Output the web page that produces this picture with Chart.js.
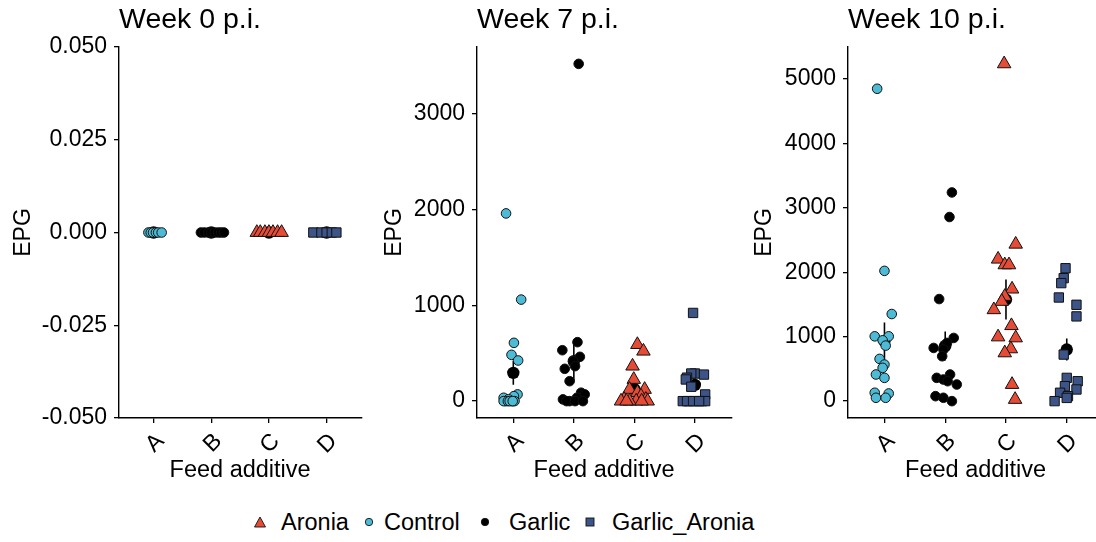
<!DOCTYPE html>
<html>
<head>
<meta charset="utf-8">
<script src="https://cdn.jsdelivr.net/npm/chart.js@4.4.0/dist/chart.umd.min.js"></script>
<style>
  html, body { margin: 0; padding: 0; background: #fff; }
  body { width: 1096px; height: 542px; overflow: hidden; position: relative;
         font-family: 'Liberation Sans', Arial, sans-serif; }
  canvas { position: absolute; top: 0; }
  #legend { position: absolute; left: 0; top: 506px; width: 1096px; height: 32px;
            font-size: 23.5px; color: #000; white-space: nowrap; }
  #legend .key { position: absolute; top: 50%; transform: translate(-50%, -50%); line-height: 0; }
  #legend .lab { position: absolute; top: 50%; transform: translateY(-50%); }
</style>
</head>
<body>
<canvas id="week0" width="370" height="500" style="left:0px"></canvas>
<canvas id="week7" width="370" height="500" style="left:370px"></canvas>
<canvas id="week10" width="372" height="500" style="left:740px"></canvas>
<div id="legend"></div>

<script>
// Categories on the x axis and the group plotted in each
const categories = ['A', 'B', 'C', 'D'];
const groupNames = ['Control', 'Garlic', 'Aronia', 'Garlic_Aronia'];

// Week 0 p.i. - every sample was 0
const week0Control = [0, 0, 0, 0, 0, 0];
const week0ControlJitter = [-0.09, -0.05, -0.01, 0.04, 0.08, 0.14];
const week0Garlic = [0, 0, 0, 0, 0, 0, 0, 0];
const week0GarlicJitter = [-0.18, -0.12, -0.05, 0, 0.06, 0.12, 0.17, 0.22];
const week0Aronia = [0, 0, 0, 0, 0, 0, 0];
const week0AroniaJitter = [-0.21, -0.15, -0.07, 0, 0.07, 0.15, 0.22];
const week0GarlicAronia = [0, 0, 0, 0, 0];
const week0GarlicAroniaJitter = [-0.23, -0.09, 0, 0.09, 0.17];
const week0Mean = [0, 0, 0, 0];
const week0SE = [0, 0, 0, 0];

// Week 7 p.i.
const week7Control = [1958, 1059, 608, 483, 424, 70, 52, 35, 20, 0, 0, 0, 0, 0, 0, 0];
const week7ControlJitter = [-0.12, 0.13, 0.01, -0.03, 0.08, 0.07, 0.01, -0.16, -0.08, -0.02, -0.13, -0.16, -0.09, 0.02, -0.06, -0.01];
const week7Garlic = [3518, 615, 531, 462, 417, 365, 337, 208, 88, 70, 35, 18, 0, 0, 0, 0];
const week7GarlicJitter = [0.08, 0.06, -0.19, 0.10, -0.01, 0.02, -0.15, -0.07, 0.12, 0.18, 0.05, -0.18, -0.07, -0.12, 0.02, 0.15];
const week7Aronia = [590, 521, 365, 226, 122, 122, 88, 52, 18, 18, 0, 0, 0, 0, 0, 0];
const week7AroniaJitter = [0.05, 0.15, -0.03, -0.01, -0.08, 0.17, 0.05, 0.11, -0.17, 0.19, 0.03, 0.22, -0.22, -0.08, 0.12, -0.13];
const week7GarlicAronia = [920, 288, 288, 277, 245, 226, 150, 70, 0, 0, 0, 0, 0, 0, 0, 0];
const week7GarlicAroniaJitter = [-0.03, 0.00, -0.06, 0.15, -0.13, -0.15, -0.06, 0.17, -0.2, -0.1, 0.02, 0.12, 0.17, -0.13, -0.03, 0.07];
const week7Mean = [295, 416, 125, 170];
const week7SE = [125, 214, 48, 60];

// Week 10 p.i.
const week10Control = [4844, 2020, 1351, 1005, 1005, 943, 861, 655, 567, 516, 413, 361, 130, 119, 52, 52];
const week10ControlJitter = [-0.12, 0.00, 0.12, -0.16, 0.07, -0.03, 0.02, -0.08, 0.00, -0.03, -0.14, 0.00, -0.16, 0.07, -0.14, 0.02];
const week10Garlic = [3236, 2855, 1583, 980, 903, 825, 800, 696, 413, 361, 335, 309, 258, 77, 52, 0];
const week10GarlicJitter = [0.11, 0.07, -0.10, 0.14, 0.03, -0.19, -0.03, -0.05, 0.08, -0.14, -0.03, 0.04, 0.19, -0.16, -0.03, 0.11];
const week10Aronia = [5230, 2433, 2201, 2113, 2113, 1737, 1623, 1546, 1417, 1170, 995, 980, 810, 748, 258, 26];
const week10AroniaJitter = [-0.03, 0.16, -0.13, -0.02, 0.05, 0.10, -0.02, -0.07, -0.20, 0.09, -0.13, 0.16, 0.08, -0.02, 0.10, 0.15];
const week10GarlicAronia = [2061, 1907, 1830, 1607, 1494, 1314, 722, 361, 309, 232, 181, 130, 77, 50, 0];
const week10GarlicAroniaJitter = [-0.02, -0.05, -0.09, -0.13, 0.16, 0.16, -0.05, 0.00, 0.18, -0.03, 0.16, -0.11, 0.02, 0.00, -0.20];
const week10Mean = [931, 855, 1575, 800];
const week10SE = [290, 225, 310, 170];

// Axis ticks
const week0Ticks = [-0.05, -0.025, 0, 0.025, 0.05];
const week7Ticks = [0, 1000, 2000, 3000];
const week10Ticks = [0, 1000, 2000, 3000, 4000, 5000];

// Marker look for each group
const groupStyles = {
  Control:       { color: '#4DBBD5', shape: 'circle',   radius: 4.8 },
  Garlic:        { color: '#000000', shape: 'circle',   radius: 4.8 },
  Aronia:        { color: '#E64B35', shape: 'triangle', radius: 7.8 },
  Garlic_Aronia: { color: '#3C5488', shape: 'rect',     radius: 6.6 }
};

Chart.defaults.font.family = "'Liberation Sans', Arial, sans-serif";
Chart.defaults.color = '#000';

/**
 * Build one facet panel
 */
function buildPanel(canvasId, title, groups, means, ses, yRange, yTicks, fmt, layoutOpts) {
  const datasets = [];

  groups.forEach((g, i) => {
    const name = groupNames[i];
    const st = groupStyles[name];
    datasets.push({
      label: name,
      data: g.values.map((v, k) => ({ x: i + 1 + g.jitter[k], y: v })),
      pointStyle: st.shape,
      pointRadius: st.radius,
      backgroundColor: st.color,
      borderColor: '#111',
      borderWidth: 1,
      order: 0
    });
  });

  // mean +/- SE
  datasets.push({
    label: 'mean',
    data: means.map((m, i) => ({ x: i + 1, y: m })),
    pointStyle: 'circle',
    pointRadius: 6.2,
    backgroundColor: '#000',
    borderWidth: 0,
    order: 1
  });
  datasets.push({
    label: 'se',
    showLine: true,
    spanGaps: false,
    data: means.flatMap((m, i) => [
      { x: i + 1, y: m - ses[i] },
      { x: i + 1, y: m + ses[i] },
      { x: i + 1, y: null }
    ]),
    borderColor: '#000',
    borderWidth: 1.6,
    pointRadius: 0,
    order: 2
  });

  const axisLine = { display: true, color: '#000', width: 1.4 };
  const tickMarks = { drawOnChartArea: false, drawTicks: true, tickLength: 5, color: '#000', lineWidth: 1.3 };

  return new Chart(document.getElementById(canvasId), {
    type: 'scatter',
    data: { datasets },
    options: {
      responsive: false,
      animation: false,
      layout: { padding: { left: 0, right: layoutOpts.padRight, top: 0, bottom: 0 } },
      plugins: {
        legend: { display: false },
        tooltip: { enabled: false },
        title: {
          display: true,
          text: title,
          align: 'start',
          fullSize: false,
          color: '#000',
          font: { size: 28.5, weight: 'normal' },
          padding: { top: 3, bottom: 9.8 }
        }
      },
      scales: {
        x: {
          type: 'linear',
          min: 0.4,
          max: 4.6,
          afterBuildTicks: s => { s.ticks = categories.map((c, i) => ({ value: i + 1 })); },
          afterFit: s => { s.height = 82; },
          ticks: {
            autoSkip: false,
            minRotation: 45,
            maxRotation: 45,
            padding: 5,
            labelOffset: 7,
            font: { size: 23 },
            callback: v => categories[Math.round(v) - 1]
          },
          grid: tickMarks,
          border: axisLine,
          title: { display: true, text: 'Feed additive', font: { size: 23.5 }, padding: { top: 0, bottom: 15 } }
        },
        y: {
          min: yRange[0],
          max: yRange[1],
          afterBuildTicks: s => { s.ticks = yTicks.map(v => ({ value: v })); },
          afterFit: s => { s.width = layoutOpts.yWidth; },
          ticks: { autoSkip: false, padding: 7, font: { size: 23 }, callback: v => fmt(v) },
          grid: tickMarks,
          border: axisLine,
          title: { display: true, text: 'EPG', font: { size: 23 }, padding: { top: layoutOpts.yTitlePad, bottom: 0 } }
        }
      }
    }
  });
}

buildPanel('week0', 'Week 0 p.i.', [
  { values: week0Control, jitter: week0ControlJitter },
  { values: week0Garlic, jitter: week0GarlicJitter },
  { values: week0Aronia, jitter: week0AroniaJitter },
  { values: week0GarlicAronia, jitter: week0GarlicAroniaJitter }
], week0Mean, week0SE, [-0.05, 0.05], week0Ticks, v => v.toFixed(3),
  { yWidth: 119, padRight: 8.4, yTitlePad: 9.7 });

buildPanel('week7', 'Week 7 p.i.', [
  { values: week7Control, jitter: week7ControlJitter },
  { values: week7Garlic, jitter: week7GarlicJitter },
  { values: week7Aronia, jitter: week7AroniaJitter },
  { values: week7GarlicAronia, jitter: week7GarlicAroniaJitter }
], week7Mean, week7SE, [-176, 3694], week7Ticks, v => String(v),
  { yWidth: 107, padRight: 7.3, yTitlePad: 11.2 });

buildPanel('week10', 'Week 10 p.i.', [
  { values: week10Control, jitter: week10ControlJitter },
  { values: week10Garlic, jitter: week10GarlicJitter },
  { values: week10Aronia, jitter: week10AroniaJitter },
  { values: week10GarlicAronia, jitter: week10GarlicAroniaJitter }
], week10Mean, week10SE, [-261.5, 5491.5], week10Ticks, v => String(v),
  { yWidth: 108, padRight: 8.4, yTitlePad: 11.2 });

// Legend (alphabetical like the original); key centre and label start in px
const legendOrder = ['Aronia', 'Control', 'Garlic', 'Garlic_Aronia'];
const legendKeyX = [260, 369, 485, 590];
const legendLabelX = [281, 384, 509, 612];

function legendMarker(name) {
  const st = groupStyles[name];
  if (st.shape === 'triangle') {
    return `<svg width="13" height="12"><polygon points="6.5,1 12,11 1,11" fill="${st.color}" stroke="#111" stroke-width="0.9"/></svg>`;
  }
  if (st.shape === 'rect') {
    return `<svg width="10" height="10"><rect x="1" y="1" width="8" height="8" fill="${st.color}" stroke="#111" stroke-width="0.9"/></svg>`;
  }
  return `<svg width="10" height="10"><circle cx="5" cy="5" r="3.7" fill="${st.color}" stroke="#111" stroke-width="0.9"/></svg>`;
}

document.getElementById('legend').innerHTML = legendOrder
  .map((n, i) => `<span class="key" style="left:${legendKeyX[i]}px">${legendMarker(n)}</span>` +
                 `<span class="lab" style="left:${legendLabelX[i]}px">${n}</span>`)
  .join('');
</script>
</body>
</html>
